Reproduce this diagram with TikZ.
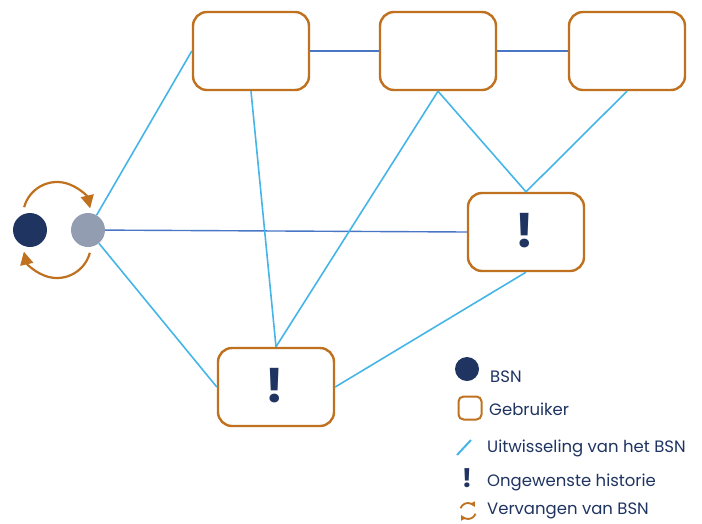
\documentclass[tikz,border=0pt]{standalone}
\usepackage{fontspec}
\setmainfont{Poppins}
\usetikzlibrary{arrows.meta}
\definecolor{navy}{HTML}{1F3461}
\definecolor{bsngrey}{HTML}{939DB2}
\definecolor{boxorange}{HTML}{BF711F}
\definecolor{lblue}{HTML}{45B5E8}
\definecolor{mblue}{HTML}{4A76C6}
\tikzset{
  userbox/.style={draw=boxorange, line width=2.4pt, rounded corners=14pt, minimum width=116pt, minimum height=78pt, inner sep=0pt, fill=white},
  bsn/.style={circle, minimum size=34pt, inner sep=0pt},
  link/.style={draw=lblue, line width=1.6pt},
  hlink/.style={draw=mblue, line width=1.4pt},
  bang/.style={text=navy, font=\fontsize{47}{47}\selectfont\bfseries},
  swap/.style={draw=boxorange, line width=2.2pt, -{Triangle[length=13pt,width=13pt]}},
  legtext/.style={anchor=west, text=navy, font=\fontsize{16.5}{18}\selectfont, inner sep=0pt},
}
\begin{document}
\begin{tikzpicture}[x=1pt,y=-1pt]
\useasboundingbox (0,0) rectangle (702,523);
% users
\node[userbox] (A) at (251,51) {};
\node[userbox] (B) at (438,51) {};
\node[userbox] (C) at (627,51) {};
\node[userbox] (D) at (526,232) {};
\node[userbox] (E) at (276,387) {};
% BSN circles
\node[bsn, fill=navy] (n) at (30,230) {};
\node[bsn, fill=bsngrey] (g) at (88,230) {};
% connectors
\draw[hlink] (A.east) -- (B.west);
\draw[hlink] (B.east) -- (C.west);
\draw[hlink] (g) -- (D.west);
\draw[link] (g) -- (A.west);
\draw[link] (g) -- (E.west);
\draw[link] (A.south) -- (E.north);
\draw[link] (B.south) -- (E.north);
\draw[link] (B.south) -- (D.north);
\draw[link] (C.south) -- (D.north);
\draw[link] (D.south) -- (E.east);
% exclamation marks
\node[bang] (Dx) at (525,231) {!};
\node[bang] (Ex) at (275,386) {!};
% replacement arrows
\draw[swap] (57,216) ++(195:34) arc[start angle=195, end angle=347, radius=34];
\draw[swap] (57,244) ++(15:34) arc[start angle=15, end angle=167, radius=34];
% legend
\node[circle, fill=navy, minimum size=24pt, inner sep=0pt] (l1) at (467,369) {};
\node[legtext] (t1) at (490,377) {BSN};
\node[draw=boxorange, line width=2pt, rounded corners=5pt, minimum width=23pt, minimum height=23pt, inner sep=0pt] (l2) at (470,408) {};
\node[legtext] (t2) at (489,409) {Gebruiker};
\coordinate (l3a) at (457,455);
\coordinate (l3b) at (471,440);
\draw[link, line width=2pt] (l3a) -- (l3b);
\node[legtext] (t3) at (487,448) {Uitwisseling van het BSN};
\node[text=navy, font=\fontsize{26}{26}\selectfont\bfseries, inner sep=0pt] (l4) at (467,478) {!};
\node[legtext] (t4) at (487,482) {Ongewenste historie};
\draw[draw=boxorange, line width=1.8pt, -{Triangle[length=5pt,width=5pt]}] (468,511) ++(200:8) arc[start angle=200, end angle=330, radius=8];
\draw[draw=boxorange, line width=1.8pt, -{Triangle[length=5pt,width=5pt]}] (468,511) ++(20:8) arc[start angle=20, end angle=150, radius=8];
\node[legtext] (t5) at (487,511) {Vervangen van BSN};
\end{tikzpicture}
\end{document}
